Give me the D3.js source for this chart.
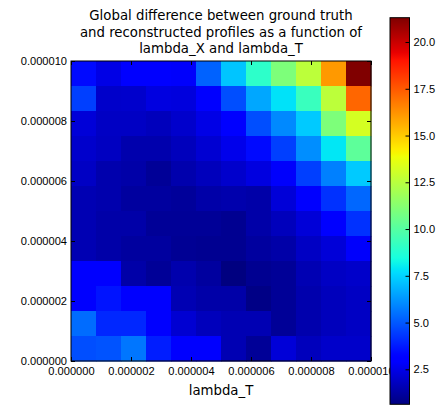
<!DOCTYPE html>
<html>
<head>
<meta charset="utf-8">
<script src="https://cdn.jsdelivr.net/npm/d3@7"></script>
<style>
  body { margin: 0; background: #fff; }
  svg { display: block; font-family: "DejaVu Sans", sans-serif; }
</style>
</head>
<body>
<svg id="chart" width="438" height="405"></svg>
<script>
// lambda_T ticks (x) and lambda_X ticks (y)
const xTicks = [0, 0.000002, 0.000004, 0.000006, 0.000008, 0.00001];
const yTicks = [0, 0.000002, 0.000004, 0.000006, 0.000008, 0.00001];
const cbTicks = [2.5, 5.0, 7.5, 10.0, 12.5, 15.0, 17.5, 20.0];

// 12 x 12 grid, first row = top (largest lambda_X), columns left -> right
const row0  = [3.4, 2.45, 3.0, 3.0, 2.85, 5.2, 7.2, 9.0, 11.0, 12.6, 16.1, 21.3];
const row1  = [4.5, 1.95, 2.0, 2.35, 2.3, 2.95, 4.8, 6.6, 7.8, 9.3, 12.6, 17.2];
const row2  = [2.2, 1.85, 1.85, 1.7, 2.0, 2.45, 2.95, 4.8, 6.0, 7.3, 11.0, 13.2];
const row3  = [2.0, 1.8, 1.45, 1.45, 1.7, 2.1, 2.55, 3.4, 4.5, 6.1, 7.9, 10.2];
const row4  = [1.85, 1.45, 1.35, 1.05, 1.45, 1.7, 2.0, 2.35, 2.85, 4.5, 5.8, 7.3];
const row5  = [1.55, 1.45, 1.2, 1.2, 1.1, 1.35, 1.45, 1.35, 2.2, 2.95, 4.2, 5.3];
const row6  = [1.55, 1.35, 1.35, 1.05, 1.05, 1.05, 0.95, 1.35, 1.7, 2.2, 2.95, 4.2];
const row7  = [1.55, 1.35, 1.2, 1.2, 1.0, 0.95, 0.95, 1.2, 1.35, 1.85, 2.2, 2.85];
const row8  = [2.95, 2.95, 1.35, 1.05, 1.45, 1.2, 0.63, 0.95, 1.05, 1.55, 1.85, 1.95];
const row9  = [3.0, 3.6, 3.1, 3.1, 1.55, 1.35, 1.35, 0.75, 1.05, 1.45, 1.7, 1.85];
const row10 = [5.4, 4.0, 4.0, 2.95, 2.1, 1.7, 1.55, 1.55, 1.05, 1.45, 1.7, 1.85];
const row11 = [4.8, 4.9, 5.6, 3.8, 3.1, 2.95, 1.55, 1.05, 2.2, 1.7, 1.95, 1.95];
const grid = [row0, row1, row2, row3, row4, row5, row6, row7, row8, row9, row10, row11];

// matplotlib "jet"
const rCh = d3.scaleLinear().domain([0, 0.35, 0.66, 0.89, 1]).range([0, 0, 1, 1, 0.5]).clamp(true);
const gCh = d3.scaleLinear().domain([0, 0.125, 0.375, 0.64, 0.91, 1]).range([0, 0, 1, 1, 0, 0]).clamp(true);
const bCh = d3.scaleLinear().domain([0, 0.11, 0.34, 0.65, 1]).range([0.5, 1, 1, 0, 0]).clamp(true);
const jet = t => d3.rgb(rCh(t) * 255, gCh(t) * 255, bCh(t) * 255).toString();

const cells = [];
grid.forEach((r, i) => r.forEach((v, j) => cells.push({ row: i, col: j, v })));
const [vmin, vmax] = d3.extent(cells, d => d.v);
const norm = d3.scaleLinear().domain([vmin, vmax]).range([0, 1]);
const color = v => jet(norm(v));

const svg = d3.select('#chart');
const plotLeft = 71, plotTop = 61, size = 300;

const x = d3.scaleLinear().domain([0, 0.00001]).range([plotLeft, plotLeft + size]);
const y = d3.scaleLinear().domain([0, 0.00001]).range([plotTop + size, plotTop]);
const colBand = d3.scaleBand().domain(d3.range(12)).range([plotLeft, plotLeft + size]);
const rowBand = d3.scaleBand().domain(d3.range(12)).range([plotTop, plotTop + size]);

svg.append('g')
  .selectAll('rect')
  .data(cells)
  .enter()
  .append('rect')
  .attr('x', d => colBand(d.col))
  .attr('y', d => rowBand(d.row))
  .attr('width', colBand.bandwidth() + 0.5)
  .attr('height', rowBand.bandwidth() + 0.5)
  .attr('fill', d => color(d.v));

const fmt = d3.format('.6f');
const tickStyle = g => {
  g.select('.domain').remove();
  g.selectAll('.tick line').attr('stroke', '#000');
  g.selectAll('.tick text').attr('fill', '#000').attr('font-size', 11.1);
};

svg.append('g')
  .attr('transform', `translate(0,${plotTop + size})`)
  .call(d3.axisBottom(x).tickValues(xTicks).tickFormat(fmt).tickSizeInner(-4).tickSizeOuter(0).tickPadding(6))
  .call(tickStyle);
svg.append('g')
  .attr('transform', `translate(0,${plotTop})`)
  .call(d3.axisTop(x).tickValues(xTicks).tickFormat('').tickSizeInner(-4).tickSizeOuter(0))
  .call(tickStyle);
svg.append('g')
  .attr('transform', `translate(${plotLeft},0)`)
  .call(d3.axisLeft(y).tickValues(yTicks).tickFormat(fmt).tickSizeInner(-4).tickSizeOuter(0).tickPadding(4))
  .call(tickStyle);
svg.append('g')
  .attr('transform', `translate(${plotLeft + size},0)`)
  .call(d3.axisRight(y).tickValues(yTicks).tickFormat('').tickSizeInner(-4).tickSizeOuter(0))
  .call(tickStyle);

svg.append('rect')
  .attr('x', plotLeft).attr('y', plotTop).attr('width', size).attr('height', size)
  .attr('fill', 'none').attr('stroke', '#000').attr('stroke-width', 1);

// title
const title = ['Global difference between ground truth',
  'and reconstructed profiles as a function of',
  'lambda_X and lambda_T'];
svg.append('g').selectAll('text')
  .data(title)
  .enter()
  .append('text')
  .attr('x', plotLeft + size / 2)
  .attr('y', (d, i) => 20 + i * 16.6)
  .attr('text-anchor', 'middle')
  .attr('font-size', 13.3)
  .attr('fill', '#000')
  .text(d => d);

svg.append('text')
  .attr('x', plotLeft + size / 2)
  .attr('y', 395)
  .attr('text-anchor', 'middle')
  .attr('font-size', 13.3)
  .attr('fill', '#000')
  .text('lambda_T');

// colorbar
const cbX = 390, cbW = 19.5, cbTop = 17.7, cbBottom = 404.3;
const cy = d3.scaleLinear().domain([vmin, vmax]).range([cbBottom, cbTop]);

const grad = svg.append('defs').append('linearGradient')
  .attr('id', 'jetgrad').attr('x1', 0).attr('y1', 1).attr('x2', 0).attr('y2', 0);
grad.selectAll('stop')
  .data(d3.range(0, 1.0001, 0.01))
  .enter()
  .append('stop')
  .attr('offset', d => d)
  .attr('stop-color', d => jet(d));

svg.append('rect')
  .attr('x', cbX).attr('y', cbTop).attr('width', cbW).attr('height', cbBottom - cbTop)
  .attr('fill', 'url(#jetgrad)')
  .attr('stroke', '#000').attr('stroke-width', 1);

svg.append('g')
  .attr('transform', `translate(${cbX + cbW},0)`)
  .call(d3.axisRight(cy).tickValues(cbTicks).tickFormat(d3.format('.1f')).tickSizeInner(-4).tickSizeOuter(0).tickPadding(4))
  .call(tickStyle);
</script>
</body>
</html>
